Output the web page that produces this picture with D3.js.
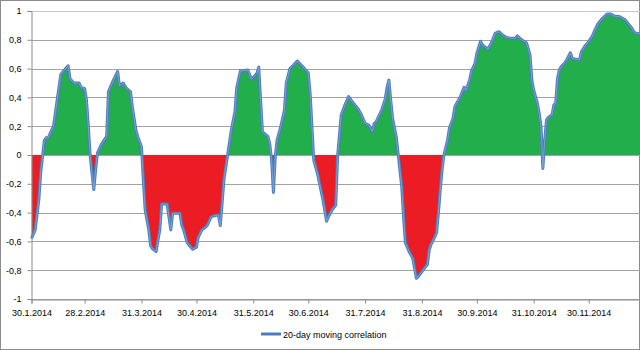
<!DOCTYPE html>
<html><head><meta charset="utf-8">
<script src="https://cdn.jsdelivr.net/npm/d3@7/dist/d3.min.js"></script>
<style>
html,body{margin:0;padding:0;background:#fff;}
svg{display:block;font-family:"Liberation Sans",Arial,sans-serif;}
</style></head>
<body>
<svg id="chart" width="640" height="350"></svg>
<script>
const dates = ["2014-01-30","2014-02-01","2014-02-03","2014-02-04","2014-02-06","2014-02-07","2014-02-08","2014-02-11","2014-02-13","2014-02-15",
"2014-02-17","2014-02-19","2014-02-20","2014-02-22","2014-02-25","2014-02-26","2014-02-28","2014-03-01","2014-03-02","2014-03-03",
"2014-03-04","2014-03-05","2014-03-06","2014-03-07","2014-03-09","2014-03-12","2014-03-13","2014-03-15","2014-03-18","2014-03-19",
"2014-03-21","2014-03-23","2014-03-25","2014-03-26","2014-03-28","2014-03-29","2014-03-31","2014-04-01","2014-04-02","2014-04-04",
"2014-04-05","2014-04-06","2014-04-08","2014-04-09","2014-04-10","2014-04-11","2014-04-14","2014-04-15","2014-04-16","2014-04-17",
"2014-04-21","2014-04-22","2014-04-23","2014-04-25","2014-04-27","2014-04-28","2014-04-30","2014-05-01","2014-05-03","2014-05-05",
"2014-05-06","2014-05-08","2014-05-10","2014-05-12","2014-05-13","2014-05-14","2014-05-15","2014-05-17","2014-05-19","2014-05-21",
"2014-05-22","2014-05-24","2014-05-25","2014-05-28","2014-05-30","2014-06-02","2014-06-03","2014-06-04","2014-06-05","2014-06-08",
"2014-06-09","2014-06-10","2014-06-11","2014-06-12","2014-06-13","2014-06-15","2014-06-17","2014-06-18","2014-06-20","2014-06-22",
"2014-06-24","2014-06-27","2014-06-30","2014-07-01","2014-07-02","2014-07-03","2014-07-05","2014-07-08","2014-07-10","2014-07-11",
"2014-07-13","2014-07-15","2014-07-16","2014-07-18","2014-07-20","2014-07-22","2014-07-24","2014-07-27","2014-07-29","2014-07-31",
"2014-08-02","2014-08-04","2014-08-05","2014-08-06","2014-08-09","2014-08-11","2014-08-12","2014-08-13","2014-08-14","2014-08-15",
"2014-08-17","2014-08-18","2014-08-20","2014-08-21","2014-08-22","2014-08-24","2014-08-26","2014-08-28","2014-08-29","2014-08-31",
"2014-09-02","2014-09-03","2014-09-04","2014-09-05","2014-09-07","2014-09-08","2014-09-09","2014-09-10","2014-09-11","2014-09-12",
"2014-09-14","2014-09-15","2014-09-17","2014-09-18","2014-09-21","2014-09-23","2014-09-24","2014-09-26","2014-09-27","2014-09-29",
"2014-09-30","2014-10-02","2014-10-03","2014-10-06","2014-10-08","2014-10-10","2014-10-12","2014-10-14","2014-10-16","2014-10-19",
"2014-10-21","2014-10-22","2014-10-24","2014-10-27","2014-10-28","2014-10-29","2014-10-30","2014-10-31","2014-11-02","2014-11-03",
"2014-11-04","2014-11-05","2014-11-06","2014-11-07","2014-11-08","2014-11-10","2014-11-11","2014-11-12","2014-11-13","2014-11-14",
"2014-11-15","2014-11-17","2014-11-18","2014-11-20","2014-11-21","2014-11-23","2014-11-25","2014-11-26","2014-11-28","2014-11-30",
"2014-12-02","2014-12-03","2014-12-05","2014-12-07","2014-12-10","2014-12-12","2014-12-14","2014-12-17","2014-12-20","2014-12-23",
"2014-12-25","2014-12-28"];

const correlation = [-0.58,-0.52,-0.31,-0.125,0.10,0.12,0.115,0.20,0.38,0.56,
0.59,0.62,0.53,0.50,0.50,0.47,0.46,0.38,0.20,0.00,
-0.125,-0.24,-0.10,0.015,0.07,0.13,0.44,0.50,0.58,0.48,
0.50,0.46,0.44,0.335,0.17,0.127,0.058,-0.17,-0.38,-0.52,
-0.63,-0.65,-0.67,-0.59,-0.52,-0.34,-0.34,-0.43,-0.52,-0.405,
-0.405,-0.486,-0.52,-0.61,-0.64,-0.655,-0.64,-0.57,-0.52,-0.50,
-0.486,-0.43,-0.42,-0.417,-0.49,-0.335,-0.17,0.00,0.17,0.30,
0.47,0.585,0.585,0.59,0.525,0.567,0.61,0.38,0.16,0.127,
0.076,-0.035,-0.26,-0.01,0.104,0.197,0.31,0.50,0.60,0.625,
0.653,0.613,0.57,0.43,0.20,-0.035,-0.127,-0.31,-0.46,-0.43,
-0.38,-0.347,-0.01,0.278,0.347,0.405,0.37,0.324,0.278,0.22,
0.208,0.162,0.22,0.23,0.31,0.39,0.47,0.52,0.38,0.255,
0.127,0.012,-0.22,-0.43,-0.61,-0.67,-0.717,-0.856,-0.845,-0.81,
-0.775,-0.76,-0.66,-0.62,-0.57,-0.54,-0.405,-0.243,-0.104,0.00,
0.104,0.185,0.255,0.335,0.405,0.47,0.447,0.52,0.58,0.637,
0.706,0.79,0.764,0.734,0.78,0.845,0.856,0.833,0.817,0.81,
0.81,0.828,0.803,0.78,0.74,0.694,0.52,0.45,0.36,0.29,
0.197,-0.093,0.104,0.243,0.262,0.278,0.347,0.36,0.53,0.59,
0.613,0.64,0.66,0.71,0.67,0.665,0.66,0.717,0.757,0.787,
0.826,0.856,0.91,0.942,0.979,0.979,0.965,0.96,0.937,0.89,
0.85,0.84];

const xTickDates = ["2014-01-30","2014-02-28","2014-03-31","2014-04-30","2014-05-31","2014-06-30","2014-07-31","2014-08-31","2014-09-30","2014-10-31","2014-11-30"];
const yTicks = [-1,-0.8,-0.6,-0.4,-0.2,0,0.2,0.4,0.6,0.8,1];
const seriesName = "20-day moving correlation";
const domainStart = "2014-01-30", domainEnd = "2014-12-28";

(function(){
const parse = d3.utcParse("%Y-%m-%d");
const data = dates.map((d,i)=>({date:parse(d), v:correlation[i]}));

const svg = d3.select("#chart");
const pLeft = 31.5, pRight = 640, pTop = 11, pBottom = 299;
const x = d3.scaleUtc().domain([parse(domainStart), parse(domainEnd)]).range([pLeft, pRight]);
const y = d3.scaleLinear().domain([-1,1]).range([pBottom, pTop]);

svg.append("rect").attr("x",0.5).attr("y",0.5).attr("width",639).attr("height",349)
  .attr("fill","#fff").attr("stroke","#8c8c8c");

svg.append("g").selectAll("line").data(yTicks).join("line")
  .attr("x1",pLeft).attr("x2",pRight)
  .attr("y1",d=>Math.round(y(d))+0.5).attr("y2",d=>Math.round(y(d))+0.5)
  .attr("stroke",d=>d===1?"#c8c8c8":"#a3a3a3").attr("stroke-width",1);

const defs = svg.append("defs");
defs.append("clipPath").attr("id","above").append("rect")
  .attr("x",pLeft).attr("y",pTop-5).attr("width",pRight-pLeft).attr("height",y(0)-pTop+5);
defs.append("clipPath").attr("id","below").append("rect")
  .attr("x",pLeft).attr("y",y(0)).attr("width",pRight-pLeft).attr("height",pBottom-y(0));

const area = d3.area().x(d=>x(d.date)).y0(y(0)).y1(d=>y(d.v));
svg.append("path").datum(data).attr("d",area).attr("fill","#22ae4a").attr("clip-path","url(#above)");
svg.append("path").datum(data).attr("d",area).attr("fill","#ec1c24").attr("clip-path","url(#below)");

const yAxis = d3.axisLeft(y).tickValues(yTicks).tickSize(4).tickPadding(6)
  .tickFormat(v => Number.isInteger(v) ? String(v) : v.toFixed(1).replace(".",","));
const gy = svg.append("g").attr("transform",`translate(${pLeft},0)`).call(yAxis);
gy.select(".domain").attr("stroke","#8c8c8c");
gy.selectAll(".tick line").attr("stroke","#8c8c8c");
gy.selectAll("text").attr("fill","#000").style("font-size","9px");

const xAxis = d3.axisBottom(x).tickValues(xTickDates.map(parse)).tickSize(4).tickPadding(6)
  .tickFormat(d3.utcFormat("%-d.%-m.%Y"));
const gx = svg.append("g").attr("transform",`translate(0,${Math.round(y(-1))+0.5})`).call(xAxis);
gx.select(".domain").attr("stroke","#8c8c8c");
gx.selectAll(".tick line").attr("stroke","#8c8c8c");
gx.selectAll("text").attr("fill","#000").style("font-size","9px");

const line = d3.line().x(d=>x(d.date)).y(d=>y(d.v));
svg.append("path").datum(data).attr("d",line).attr("fill","none")
  .attr("stroke","#4a7ebb").attr("stroke-width",3).attr("stroke-linejoin","round");
svg.append("path").datum(data).attr("d",line).attr("fill","none")
  .attr("stroke","#86a8d8").attr("stroke-width",0.8).attr("stroke-linejoin","round");

const lg = svg.append("g").attr("transform","translate(261,334)");
lg.append("line").attr("x1",0).attr("x2",20).attr("y1",0).attr("y2",0)
  .attr("stroke","#4a7ebb").attr("stroke-width",3);
lg.append("text").attr("x",22).attr("y",3.5).style("font-size","9px").attr("fill","#000").text(seriesName);
})();
</script>
</body></html>
